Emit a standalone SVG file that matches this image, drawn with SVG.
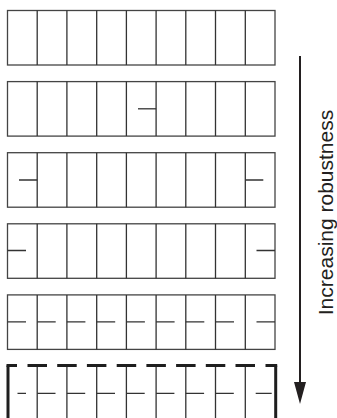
<svg xmlns="http://www.w3.org/2000/svg" width="337" height="418" viewBox="0 0 337 418">
<defs>
<style>
.c{fill:#fff;stroke:#444;stroke-width:1.3}
.v{stroke:#333;stroke-width:1.3;fill:none}
.s{stroke:#333;stroke-width:1.3;fill:none}
.t{stroke:#1e1e1e;stroke-width:3;fill:none}
.lbl{font-family:"Liberation Sans",Arial,sans-serif;font-size:21px;fill:#231f20}
</style>
<marker id="ah" viewBox="0 0 22 12" refX="2" refY="6" markerWidth="22" markerHeight="12" markerUnits="userSpaceOnUse" orient="auto">
<path d="M0,0 L22,6 L0,12 Z" fill="#231f20"/>
</marker>
</defs>
<rect width="337" height="418" fill="#fff"/>

<g id="row1">
<rect class="c" x="7.5" y="10.5" width="267.5" height="54.5"/>
<path class="v" d="M37.2,10.5V65M66.9,10.5V65M96.7,10.5V65M126.4,10.5V65M156.1,10.5V65M185.8,10.5V65M215.5,10.5V65M245.3,10.5V65"/>
</g>

<g id="row2">
<rect class="c" x="7.5" y="81.6" width="267.5" height="54.5"/>
<path class="v" d="M37.2,81.6V136.1M66.9,81.6V136.1M96.7,81.6V136.1M126.4,81.6V136.1M156.1,81.6V136.1M185.8,81.6V136.1M215.5,81.6V136.1M245.3,81.6V136.1"/>
<path class="s" d="M138,108.8H156.1"/>
</g>

<g id="row3">
<rect class="c" x="7.5" y="152.7" width="267.5" height="54.5"/>
<path class="v" d="M37.2,152.7V207.2M66.9,152.7V207.2M96.7,152.7V207.2M126.4,152.7V207.2M156.1,152.7V207.2M185.8,152.7V207.2M215.5,152.7V207.2M245.3,152.7V207.2"/>
<path class="s" d="M19,180H37.2M245.3,180H263.3"/>
</g>

<g id="row4">
<rect class="c" x="7.5" y="223.8" width="267.5" height="54.5"/>
<path class="v" d="M37.2,223.8V278.3M66.9,223.8V278.3M96.7,223.8V278.3M126.4,223.8V278.3M156.1,223.8V278.3M185.8,223.8V278.3M215.5,223.8V278.3M245.3,223.8V278.3"/>
<path class="s" d="M7.5,250.5H26M256.5,250.5H275"/>
</g>

<g id="row5">
<rect class="c" x="7.5" y="294.9" width="267.5" height="54.5"/>
<path class="v" d="M37.2,294.9V349.4M66.9,294.9V349.4M96.7,294.9V349.4M126.4,294.9V349.4M156.1,294.9V349.4M185.8,294.9V349.4M215.5,294.9V349.4M245.3,294.9V349.4"/>
<path class="s" d="M7.5,321.8H26M37.2,321.8H55.7M66.9,321.8H85.4M96.7,321.8H115.2M126.4,321.8H144.9M156.1,321.8H174.6M185.8,321.8H204.3M215.5,321.8H234M256.5,321.8H275"/>
</g>

<g id="row6">
<path class="v" d="M37.2,366V418M66.9,366V418M96.7,366V418M126.4,366V418M156.1,366V418M185.8,366V418M215.5,366V418M245.3,366V418"/>
<path class="s" d="M17.5,393.3H26M37.2,393.3H55.5M66.9,393.3H85.2M96.7,393.3H115M126.4,393.3H144.7M156.1,393.3H174.4M185.8,393.3H204.1M215.5,393.3H233.8M255.7,393.3H271.7"/>
<path class="t" d="M8,365.5V418M275.7,365.5V418"/>
<path class="t" d="M6.5,365.5H17M27.5,365.5H47M57.2,365.5H76.7M86.9,365.5H106.4M116.7,365.5H136.2M146.4,365.5H165.9M176.1,365.5H195.6M205.8,365.5H225.3M235.5,365.5H255M265.5,365.5H277.2"/>
</g>

<g id="connectors">
<line x1="300" y1="56" x2="300" y2="384" stroke="#231f20" stroke-width="2" marker-end="url(#ah)"/>
</g>

<g id="label">
<text class="lbl" transform="translate(333,212.5) rotate(-90)" text-anchor="middle">Increasing robustness</text>
</g>
</svg>
